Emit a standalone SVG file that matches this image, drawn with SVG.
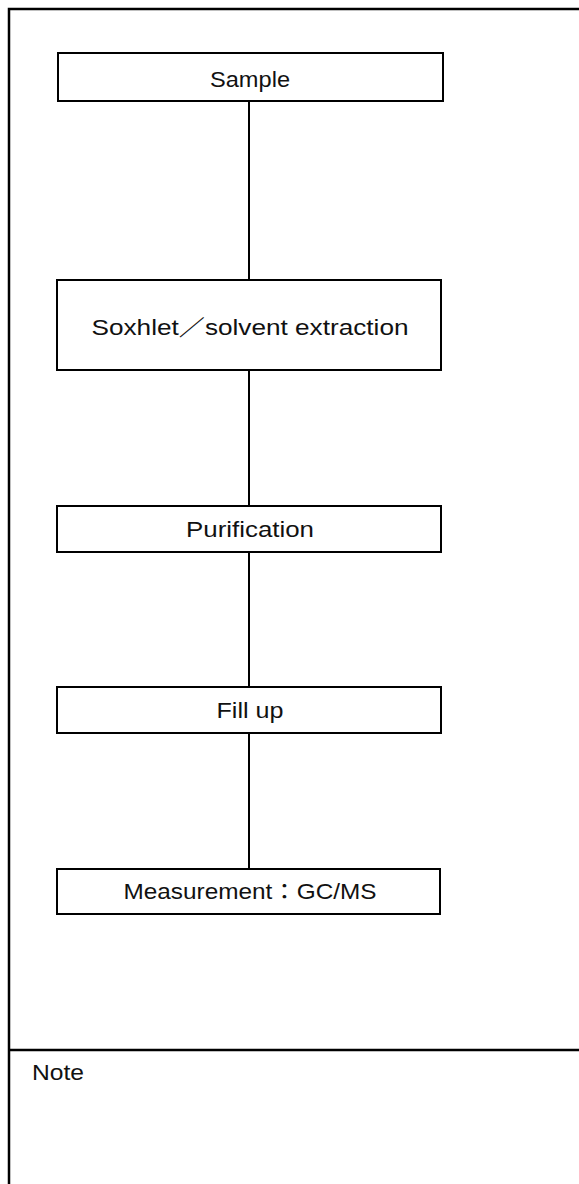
<svg xmlns="http://www.w3.org/2000/svg" width="579" height="1184" viewBox="0 0 579 1184">
<style>
.frame{fill:none;stroke:#000;stroke-width:2.5}
.box{fill:#fff;stroke:#000;stroke-width:2}
.conn{stroke:#000;stroke-width:2;fill:none}
.lbl{font-family:"Liberation Sans","Noto Sans CJK JP",sans-serif;font-size:22px;fill:#111;text-anchor:middle}
.note{font-family:"Liberation Sans","Noto Sans CJK JP",sans-serif;font-size:22px;fill:#111}
</style>
<rect x="0" y="0" width="579" height="1184" fill="#fff"/>
<g id="frame">
<path class="frame" d="M9,1184 V9 H580"/>
<line class="frame" x1="9" y1="1050" x2="580" y2="1050"/>
</g>
<g id="connectors">
<line class="conn" x1="249" y1="101" x2="249" y2="280"/>
<line class="conn" x1="249" y1="370" x2="249" y2="506"/>
<line class="conn" x1="249" y1="552" x2="249" y2="687"/>
<line class="conn" x1="249" y1="733" x2="249" y2="869"/>
</g>
<g id="sample">
<rect class="box" x="58" y="53" width="385" height="48"/>
<text class="lbl" x="250" y="87" textLength="80" lengthAdjust="spacingAndGlyphs">Sample</text>
</g>
<g id="extraction">
<rect class="box" x="57" y="280" width="384" height="90"/>
<text class="lbl" x="250" y="335" textLength="317" lengthAdjust="spacingAndGlyphs">Soxhlet／solvent extraction</text>
</g>
<g id="purification">
<rect class="box" x="57" y="506" width="384" height="46"/>
<text class="lbl" x="250" y="537" textLength="128" lengthAdjust="spacingAndGlyphs">Purification</text>
</g>
<g id="fillup">
<rect class="box" x="57" y="687" width="384" height="46"/>
<text class="lbl" x="250" y="718" textLength="67" lengthAdjust="spacingAndGlyphs">Fill up</text>
</g>
<g id="measurement">
<rect class="box" x="57" y="869" width="383" height="45"/>
<text class="lbl" x="250" y="899" textLength="253" lengthAdjust="spacingAndGlyphs">Measurement：GC/MS</text>
</g>
<g id="note">
<text class="note" x="32" y="1080" textLength="52" lengthAdjust="spacingAndGlyphs">Note</text>
</g>
</svg>
